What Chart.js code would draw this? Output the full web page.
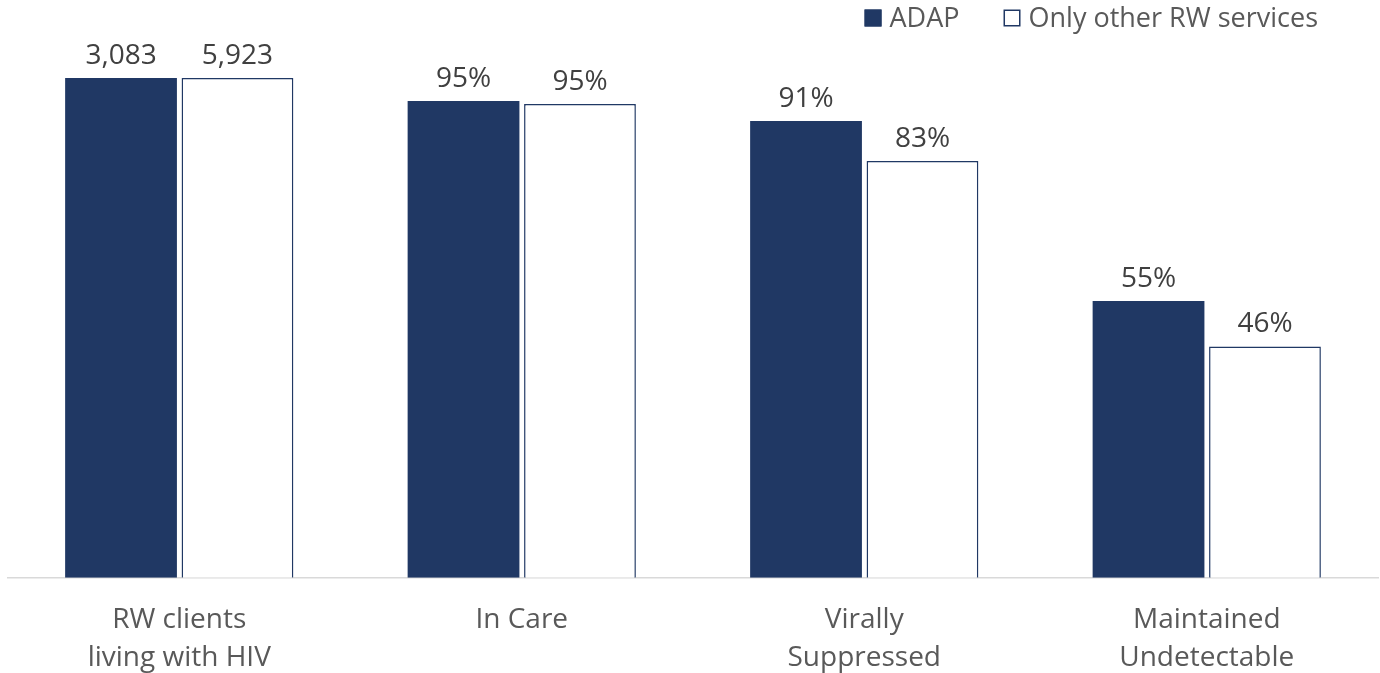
<!DOCTYPE html>
<html lang="en">
<head>
    <meta charset="UTF-8">
    <title>RW clients care continuum</title>
    <script src="https://cdn.jsdelivr.net/npm/chart.js"></script>
    <style>
        html, body { margin: 0; padding: 0; background: #fff; }
        #wrap { width: 1380px; height: 673px; }
    </style>
</head>
<body>
    <div id="wrap"><canvas id="careChart"></canvas></div>
    <script>
        const categories = [["RW clients", "living with HIV"], "In Care", ["Virally", "Suppressed"], ["Maintained", "Undetectable"]];
        const adapValues = [100, 95.4, 91.4, 55.4];
        const otherValues = [100, 94.8, 83.4, 46.3];
        const adapLabels = ["3,083", "95%", "91%", "55%"];
        const otherLabels = ["5,923", "95%", "83%", "46%"];

        const fontFamily = "'Open Sans', 'Liberation Sans', sans-serif";
        const navy = "#203864";

        // value text above each bar
        const barLabels = {
            id: "barLabels",
            afterDatasetsDraw(chart) {
                const ctx = chart.ctx;
                ctx.save();
                ctx.font = "28px " + fontFamily;
                ctx.fillStyle = "#404040";
                ctx.textAlign = "center";
                ctx.textBaseline = "alphabetic";
                const texts = [adapLabels, otherLabels];
                chart.data.datasets.forEach(function(ds, i) {
                    chart.getDatasetMeta(i).data.forEach(function(bar, j) {
                        ctx.fillText(texts[i][j], bar.x, bar.y - 14);
                    });
                });
                ctx.restore();
            }
        };

        // legend in the top right corner, tighter than the built-in one
        const topLegend = {
            id: "topLegend",
            afterDraw(chart) {
                const ctx = chart.ctx;
                const right = 1318, box = 17, gap = 8, itemGap = 44, midY = 18;
                ctx.save();
                ctx.font = "27px " + fontFamily;
                ctx.textBaseline = "middle";
                ctx.textAlign = "left";
                let x = right;
                for (let i = chart.data.datasets.length - 1; i >= 0; i--) {
                    const ds = chart.data.datasets[i];
                    const w = ctx.measureText(ds.label).width;
                    const textX = x - w;
                    const boxX = textX - gap - box;
                    ctx.fillStyle = ds.backgroundColor;
                    ctx.fillRect(boxX, midY - box / 2, box, box);
                    ctx.strokeStyle = ds.borderColor;
                    ctx.lineWidth = 1.5;
                    ctx.strokeRect(boxX + 0.75, midY - box / 2 + 0.75, box - 1.5, box - 1.5);
                    ctx.fillStyle = "#595959";
                    ctx.fillText(ds.label, textX, midY + 1);
                    x = boxX - itemGap;
                }
                ctx.restore();
            }
        };

        new Chart(document.getElementById("careChart"), {
            type: "bar",
            data: {
                labels: categories,
                datasets: [
                    {
                        label: "ADAP",
                        data: adapValues,
                        backgroundColor: navy,
                        borderColor: navy,
                        borderWidth: 0
                    },
                    {
                        label: "Only other RW services",
                        data: otherValues,
                        backgroundColor: "#ffffff",
                        borderColor: navy,
                        borderWidth: 1.5
                    }
                ]
            },
            options: {
                responsive: true,
                maintainAspectRatio: false,
                animation: false,
                categoryPercentage: 0.68,
                barPercentage: 0.96,
                layout: { padding: { left: 8, right: 2, top: 78, bottom: -19 } },
                plugins: {
                    legend: { display: false },
                    tooltip: { enabled: false }
                },
                scales: {
                    x: {
                        grid: { display: false },
                        border: { color: "#d9d9d9", width: 1.5 },
                        ticks: {
                            font: { family: fontFamily, size: 28, lineHeight: 1.36 },
                            color: "#595959",
                            padding: 15,
                            maxRotation: 0
                        }
                    },
                    y: {
                        display: false,
                        min: 0,
                        max: 100
                    }
                }
            },
            plugins: [barLabels, topLegend]
        });
    </script>
</body>
</html>
